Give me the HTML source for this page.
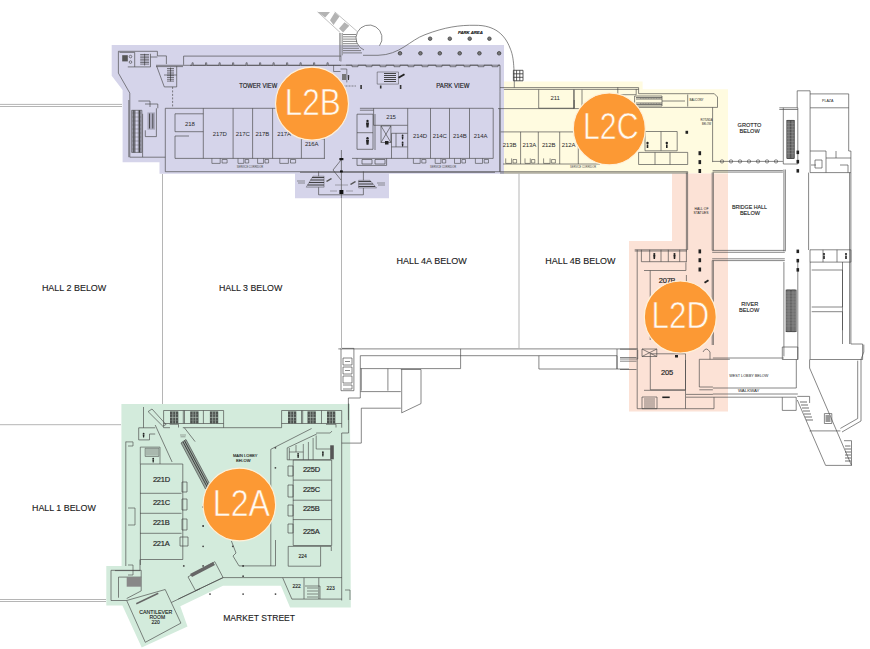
<!DOCTYPE html>
<html><head><meta charset="utf-8">
<style>
html,body{margin:0;padding:0;background:#fff;width:870px;height:649px;overflow:hidden}
svg{display:block}
text{font-family:"Liberation Sans",sans-serif}
.lbl{font-size:9px;fill:#1a1a1a;stroke:#1a1a1a;stroke-width:0.12px}
.rs{font-size:6px;fill:#2a2a2a;text-anchor:middle;letter-spacing:-0.1px}
.rl{font-size:7.5px;fill:#2a2a2a;stroke:#2a2a2a;stroke-width:0.2px;letter-spacing:-0.2px}
.circ{fill:#FC9934;stroke:#FFF0D8;stroke-width:1.2}
.ct{font-size:37px;fill:#fffaf0;stroke:#FC9934;stroke-width:0.6px}
.hl{stroke:#b5b5b5;stroke-width:1;fill:none}
.w{stroke:#454545;stroke-width:0.65;fill:none}
</style></head>
<body>
<svg width="870" height="649" viewBox="0 0 870 649">
<!-- colored zones -->
<polygon fill="#D5D4EA" points="111.7,45 504,45 504,173.7 389,173.7 389,198.3 295,198.3 295,173.7 159.5,173.7 159.5,162.3 122.6,162.3 122.6,90 111.7,75.7"/>
<polygon fill="#FFFBE0" points="504,81.6 642.6,81.6 642.6,89.3 728,89.3 728,173.4 504,173.4"/>
<polygon fill="#FCE2D6" points="672,173.4 728,173.4 728,411.4 629,411.4 629,241 672,241"/>
<polygon fill="#D3EBDC" points="121.4,403.9 350,403.9 350.8,607.4 290.1,607.4 280.9,585.7 223,585.7 180.3,606.3 187.5,626.4 141.7,647.4 122.4,605.5 106.3,605.5 106.3,566.1 121.6,566.1"/>


<!-- L2B walls -->
<g class="w">
<!-- top-left stair tower -->
<path d="M118.4 51.3H157.4V55.9H166.4V64.1M118.4 51.3V73.1L129.8 93.1V157.2H142.6M142.6 113.8V157.2H165.3"/>
<path d="M119.5 52.4H134.7V66.9M127.8 66.9H150.5V53.8M150.5 57H157.4"/>
<circle cx="130.5" cy="56.6" r="1.3"/><circle cx="130.5" cy="62.1" r="1.3"/>
<path d="M156.7 66.2L164.3 86.9H176.7V66.2M164 75H176.7"/>
<!-- balcony -->
<path d="M183.6 64.8V56.1H341"/>
<path d="M156 65.3H341M156 66.6H183"/>
<path d="M341 65.2H500V91.7"/>
<path d="M172.6 86.9V107.6" stroke-dasharray="2 1.5"/>
<!-- escalator area -->
<path d="M128.8 100V157.2M156.4 108.3V136.6H145.3V130.3M138.4 101H150V107M145 104H157.8V108.3"/>
<!-- room row -->
<path d="M165.3 108.3H341M359.9 108.3H493.2M165.3 108.3V171.7H500V91.7"/>
<path d="M175 158.4H325M352 158.4H493.2V108.3"/>
<path d="M203.3 108.3V158.4M233.1 108.3V158.4M252.6 108.3V158.4M272.6 108.3V158.4M301.4 108.3V158.4M324.4 138.9V158.4M301.4 138.9H324.4"/>
<path d="M175 113.8H203.3M175 131.7H203.3M175 113.8V131.7"/>
<path d="M407.7 108.3V158.4M430.5 108.3V158.4M449.5 108.3V158.4M469.5 108.3V158.4"/>
<path d="M373.6 108.3V125.3H407.5M359.9 110.2H373.6M381 125.9H390.9V142.5H381ZM381 125.9L390.9 142.5M390.9 125.9L381 142.5M357 114.2H373V149.3H357ZM357 132.7H373M375 114V150"/>
<path d="M391.5 133.3H407.5M391.5 133.3V158.4M391.5 146.9H407.5M396 133.3V146.9"/><path d="M357 158.4V165.4H386.6V158.4M362 159.5H372V164H362ZM375 159.5H385V164H375Z"/>
<path d="M175 136V158.4M175 136H189"/>
</g>
<!-- top stair + park area -->
<g>
<path d="M317.6 11.9L340.3 32.6M334.8 11.9L356.9 31.2" stroke="#999" stroke-width="0.6" fill="none"/>
<path d="M317.6 11.9H330L325.2 17.4ZM330 20.2L334.8 12.6L339.5 16.5L333.5 25ZM339 28.4L344.5 22.2L349.3 25.7L343.1 32.6Z" fill="#b3b3b3"/>
<path d="M379.5 45.7A13 13 0 1 0 364 50" fill="none" stroke="#555" stroke-width="0.7"/>
<path d="M343 34.5H356M343 36.8H356M343 39.1H356M343 41.4H357M343 43.7H357M343 46H358M343 48.3H359M343 50.6H361M343 52.9H362" stroke="#555" stroke-width="0.7"/><path d="M342.5 33V55.3M339.5 33V61" stroke="#777" stroke-width="0.6"/>
<path d="M340.9 33V61.5M363 55.3H378C400 55 410 40 425 34.7C445 27 460 25 475 25.3C495 25 505 35 510 48C513 55 514.3 62 514.3 87.7" fill="none" stroke="#555" stroke-width="0.7"/>
<path d="M513.4 70.3H523V80.8H513.4ZM516.6 70.3V80.8M519.8 70.3V80.8M513.4 73.8H523M513.4 77.3H523" fill="none" stroke="#333" stroke-width="0.8"/>
</g>
<g fill="#777" stroke="#333" stroke-width="0.7">
<circle cx="430.1" cy="38.7" r="1.8"/><circle cx="449.8" cy="38.7" r="1.8"/><circle cx="469.7" cy="38.7" r="1.8"/><circle cx="489.4" cy="38.7" r="1.8"/>
<circle cx="400" cy="53.3" r="1.8"/><circle cx="420.4" cy="53.3" r="1.8"/><circle cx="439.8" cy="53.3" r="1.8"/><circle cx="459.7" cy="53.3" r="1.8"/><circle cx="479.4" cy="53.3" r="1.8"/><circle cx="499.1" cy="53.3" r="1.8"/>
</g>
<g fill="#333">
<rect x="360.3" y="85" width="1.6" height="4"/><rect x="399.8" y="85" width="1.6" height="4"/><rect x="379.9" y="85.5" width="1.6" height="3"/>
<path d="M132.2 110.3H135.7V152.4H132.2ZM137.8 110.3H141.2V152.4H137.8Z" fill="#8c8c99"/><path d="M133.9 110.3V152.4M139.5 110.3V152.4" stroke="#333" stroke-width="0.8"/><path d="M132.2 113H141.2M132.2 117H141.2M132.2 121H141.2M132.2 125H141.2M132.2 129H141.2M132.2 133H141.2M132.2 137H141.2M132.2 141H141.2M132.2 145H141.2M132.2 149H141.2" stroke="#555" stroke-width="0.4"/>
<path d="M131.6 110.3H141.9V152.4H131.6Z" fill="none" stroke="#444" stroke-width="0.6"/>
<path d="M147.4 112.4H155V129.7H147.4Z" fill="#aaa9bd"/>
<path d="M149.5 113.5V128.5M152.8 113.5V128.5" stroke="#333" stroke-width="0.8"/>
<path d="M140.2 54.5H149.1M140.2 56.1H149.1M140.2 57.7H149.1M140.2 59.3H149.1M140.2 60.9H149.1M140.2 62.5H149.1M140.2 64.1H149.1M144.6 53.8V65.5" stroke="#333" stroke-width="0.6"/>
<path d="M122.2 55.2H127.8V61.4H122.2Z" fill="#555"/>
<path d="M167 68.5H174M167 70.3H174M167 72.1H174M167 73.9H174M167 75.7H174M167 77.5H174M167 79.3H174M167 81.1H174M170.5 67.6V81.4" stroke="#333" stroke-width="0.6"/>
<path d="M377.2 72H398.5V84.1H377.2Z" fill="none" stroke="#444" stroke-width="0.5"/><path d="M384 73.5H396M384 75.5H396M384 77.5H396M384 79.5H396M384 81.5H396" stroke="#333" stroke-width="0.9"/><path d="M398 77L404 73.5L405 75L399 78.5Z" fill="#222"/>
</g>
<g class="lbl" style="font-size:6.6px;stroke-width:0.15px">
<text x="457.9" y="34" style="font-size:3.8px;font-weight:bold;font-style:italic" textLength="24.9" lengthAdjust="spacingAndGlyphs">PARK AREA</text>
<text x="239.3" y="87.8" textLength="37.9" lengthAdjust="spacingAndGlyphs">TOWER VIEW</text>
<text x="436.3" y="87.8" textLength="33.1" lengthAdjust="spacingAndGlyphs">PARK VIEW</text>
</g>
<g fill="#222">
<circle cx="367.5" cy="121" r="1.2"/><path d="M366 122.5H369L368.5 127.5H366.5Z"/>
<circle cx="367.5" cy="138.3" r="1.2"/><path d="M366 139.8H369L368.5 144.8H366.5Z"/>
<circle cx="402.6" cy="135.5" r="0.9"/><path d="M401.7 136.5H403.5L403.1 139.5H402.1Z"/><circle cx="402.6" cy="142.5" r="0.9"/><path d="M401.7 143.5H403.5L403.1 146.5H402.1Z"/>
<path d="M385 141H388.5V144.5H385Z"/>
</g>
<g class="rs"><text x="189.9" y="126.0">218</text><text x="219.8" y="135.9">217D</text><text x="242.8" y="135.9">217C</text><text x="262.3" y="135.9">217B</text><text x="284.1" y="135.9">217A</text><text x="311.7" y="145.5">216A</text><text x="391.0" y="119.1">215</text><text x="420.1" y="137.5">214D</text><text x="439.7" y="137.5">214C</text><text x="459.9" y="137.5">214B</text><text x="480.6" y="137.5">214A</text></g>



<g class="w" style="stroke-width:0.6"><path d="M211.9 158.4V163.4H220.2V158.4"/><path d="M222.1 159.5H227.1V163H222.1Z"/><path d="M238.0 158.4V163.4H243.8V158.4"/><path d="M245.2 159.5H248.7V163H245.2Z"/><path d="M257.6 158.4V163.4H263.6V158.4"/><path d="M265.0 159.5H268.6V163H265.0Z"/><path d="M279.8 158.4V163.4H288.4V158.4"/><path d="M290.5 159.5H295.6V163H290.5Z"/><path d="M413.4 158.4V163.4H420.2V158.4"/><path d="M421.8 159.5H425.9V163H421.8Z"/><path d="M435.2 158.4V163.4H440.9V158.4"/><path d="M442.3 159.5H445.7V163H442.3Z"/><path d="M454.5 158.4V163.4H460.5V158.4"/><path d="M461.9 159.5H465.5V163H461.9Z"/><path d="M475.4 158.4V163.4H482.5V158.4"/><path d="M484.2 159.5H488.5V163H484.2Z"/><path d="M505.7 158.4V163.4H511.6V158.4"/><path d="M513.0 159.5H516.6V163H513.0Z"/><path d="M525.0 158.4V163.4H530.3V158.4"/><path d="M531.6 159.5H534.8V163H531.6Z"/><path d="M543.6 158.4V163.4H550.1V158.4"/><path d="M551.6 159.5H555.4V163H551.6Z"/></g><g class="lbl" style="font-size:2.6px;stroke-width:0;fill:#444"><text x="236.7" y="168.4" textLength="26.4" lengthAdjust="spacingAndGlyphs">SERVICE CORRIDOR</text><text x="430" y="168.4" textLength="26" lengthAdjust="spacingAndGlyphs">SERVICE CORRIDOR</text><text x="570" y="168.4" textLength="26" lengthAdjust="spacingAndGlyphs">SERVICE CORRIDOR</text></g>
<path d="M346 65.2H352.0v1.5h6v-1.5H366.0v1.5h6v-1.5H380.0v1.5h6v-1.5H394.0v1.5h6v-1.5H408.0v1.5h6v-1.5H422.0v1.5h6v-1.5H436.0v1.5h6v-1.5H450.0v1.5h6v-1.5H464.0v1.5h6v-1.5H478.0v1.5h6v-1.5H492.0v1.5h6v-1.5H500" fill="none" stroke="#3a3a3a" stroke-width="0.6"/>
<path d="M190 65.3H192.0v-2.5h1.2v2.5H205.5v-2.5h1.2v2.5H219.0v-2.5h1.2v2.5H232.5v-2.5h1.2v2.5H246.0v-2.5h1.2v2.5H259.5v-2.5h1.2v2.5H273.0v-2.5h1.2v2.5H286.5v-2.5h1.2v2.5H300.0v-2.5h1.2v2.5H313.5v-2.5h1.2v2.5H327.0v-2.5h1.2v2.5H341" fill="none" stroke="#3a3a3a" stroke-width="0.6"/>
<g class="w" style="stroke-width:0.6">
<path d="M333.6 65.2V71.5M340.5 69H346.8V82.4M333.6 71.5H340.5"/>
<path d="M337 86H356" stroke-dasharray="1 0.5"/>
</g>
<g fill="#333"><path d="M342 74H346V80H342Z" fill="#777"/><circle cx="348.5" cy="76" r="0.9"/><path d="M347.8 77H349.2L349 80H348Z"/></g>
<!-- L2B bottom protrusion -->
<g class="w">
<path d="M341.4 150V198"/>
<path d="M318.6 171.4V194.8H363.4V171.4"/>
<path d="M341 160L333 170L341 180"/>
<path d="M300 172.3H495" />
</g>
<g fill="#555">
<path d="M306.2 187.2L313 176.2H324.1V187.2Z" fill="#c4c3d8" stroke="#444" stroke-width="0.4"/>
<path d="M312 177.5H324M310.5 180H324M309 182.5H324M307.5 185H324" stroke="#333" stroke-width="0.9"/>
<path d="M358.6 180.3H370L376.6 188H358.6Z" fill="#c4c3d8" stroke="#444" stroke-width="0.4"/>
<path d="M358.6 181.5H371M358.6 184H373M358.6 186.5H375" stroke="#333" stroke-width="0.9"/>
<path d="M297 181H305M298 183H305M377 183H385M378 185H385" stroke="#555" stroke-width="0.6"/>
<path d="M330 191H337M346 191H353M335 185H348" stroke="#666" stroke-width="0.5"/>
<path d="M326 181L331 178L332 179L327 182Z"/>
<path d="M350 184L355 181L356 182L351 185Z"/>
<rect x="339.4" y="158" width="4" height="2.2" fill="#111"/>
<rect x="340" y="170.4" width="2.8" height="2" fill="#111"/>
<rect x="339.4" y="190" width="4" height="4" fill="#111"/>
</g>

<!-- L2C walls -->
<g class="w">
<path d="M500 87.6H638.6M503.9 89.4H638.6M638.6 87.6V93.7H714.3L717.5 97V107.4H638.6"/>
<path d="M538.7 89.6V108.2H574.2V89.6M498 108.6H600M574.2 108.6V100"/>
<path d="M499.9 108.6V171.7M500.7 131.9H600M520.6 131.9V164M538.3 131.9V164M559.7 131.9V164M578.3 131.9V164M503 164H600"/>
<path d="M500 171.7H687.7V172.5M500 173H687.7"/>
<path d="M634.6 96H662V106H634.6ZM687.7 94.5V106.6M662 101H685"/>
<path d="M712.6 107.4V162.1"/>
<path d="M645 131.5H677.2V150.8H645ZM661 131.5V150.8"/>
<path d="M638.6 152.4H687.7V164.5H638.6ZM655 152.4V164.5M670 152.4V164.5"/>
</g>
<path d="M636 97.5H662M636 99H662M636 103H662M636 104.5H662" stroke="#555" stroke-width="0.8"/><path d="M640 98.2H661M640 103.7H661" stroke="#666" stroke-width="0.6" stroke-dasharray="1 0.6"/><path d="M617.8 87.4V94.7H636.2V89.2M573.7 89.6V108.6M582 89.6V108.6" stroke="#3a3a3a" stroke-width="0.6" fill="none"/>
<g class="w">
<path d="M712.6 161.4H782.9"/><rect x="720.5" y="159.9" width="3" height="3" rx="1"/><rect x="729.5" y="159.9" width="3" height="3" rx="1"/><rect x="738.5" y="159.9" width="3" height="3" rx="1"/><rect x="747.5" y="159.9" width="3" height="3" rx="1"/><rect x="756.5" y="159.9" width="3" height="3" rx="1"/><rect x="765.5" y="159.9" width="3" height="3" rx="1"/><rect x="774.5" y="159.9" width="3" height="3" rx="1"/>
<path d="M712.6 170.6H782.9M712.6 172.1H782.9"/>
</g>
<g fill="#222">
<rect x="685.5" y="130.8" width="2.6" height="3"/>
<rect x="698.5" y="151.2" width="2.6" height="4"/><rect x="698.5" y="160.1" width="2.6" height="4"/><rect x="698.5" y="169" width="2.6" height="4"/>
<circle cx="647.5" cy="143" r="1.2"/><circle cx="666.8" cy="143" r="1.2"/>
<rect x="646.7" y="144.5" width="1.6" height="3.5"/><rect x="666" y="144.5" width="1.6" height="3.5"/>
</g>
<g class="rs"><text x="555.2" y="99.7">211</text><text x="509.6" y="146.6">213B</text><text x="529.3" y="146.6">213A</text><text x="548.7" y="146.6">212B</text><text x="568.6" y="146.6">212A</text></g>
<!-- L2D walls -->
<g class="w">
<path d="M686.4 172.5V262.2M687.6 172.5V250M712.2 172.5V250.3M713.4 172.5V250.3"/>
<path d="M712.2 250.4H784.8M712.2 252.3H784.8M712.2 258.8H784.8M712.2 260.6H784.8"/>
<path d="M634.7 249.8H686.9M634.7 251H686.9M641.4 249.8V261.7M649.7 249.8V261.7M661 249.8V261.7M668.3 249.8V261.7M679.7 249.8V261.7M641.4 261.7H686.4"/>
<path d="M637.2 249.8V408.7M644 270.5H685.9V262.5M650.2 270.5V340M686.4 275V350"/>
<path d="M712.2 260.6V345M713.4 260.6V345M699.3 359.3V387M699.3 359.3H729.8M703 352Q706 346 710 352V359.3"/>
<path d="M650.3 353.8H685.5V389.8H650.3ZM642 349H656.8V356.5H642ZM642 349L656.8 356.5M656.8 349L642 356.5"/>
<path d="M685.5 360V408.7M637.2 408.7H714M714 397.2V408.7M644 390.3H685.5"/>
<path d="M699.3 387H712.9M699.3 389.8H712.9M686 394.4H712.9M686 397.2H712.9"/>
<path d="M642 397H657V408.7H642ZM644 399H655M644 401H655M644 403H655M644 405H655M644 407H655"/>
<path d="M620 349.2H636.5M620 357.5H636.5M620 361.2H636.5M620 369.5H636.5"/>
</g>
<g fill="#222">
<rect x="698.5" y="249.4" width="2.6" height="4"/><rect x="698.5" y="258.2" width="2.6" height="4"/><rect x="698.5" y="267.5" width="2.6" height="4"/>
<circle cx="654.3" cy="254" r="1.1"/><circle cx="674.5" cy="254" r="1.1"/>
<path d="M653.2 255H655.4L655 259H653.6Z"/><path d="M673.4 255H675.6L675.2 259H673.8Z"/>
<rect x="662.3" y="396.5" width="7.4" height="1.6"/>
<path d="M704 282L708 279.5L709 281L705 283.5Z"/>
<rect x="675" y="355" width="3" height="2.5"/>
</g>
<g class="w" style="stroke-width:0.6">
<path d="M140.3 464V447.1H160V464M145.2 448.3H158.8V456.4H145.2Z"/><path d="M125.9 441.9H133V446H128"/>
<path d="M128 508H135V525H128"/>
<path d="M128 565H133V575H128"/>
<path d="M305 586H320V599M307 588H318M307 591H318M307 594H318M307 597H318"/>
<path d="M296 445V452M289.3 452H303.3M303.3 444V459.8M308.4 442V459.8M313.1 438V459.8M316.2 435.5V449H331.2M316.2 433H330.2L332 431"/>
<path d="M345 590H350V600"/>
</g>
<g fill="#222"><circle cx="143.6" cy="433.6" r="0.9"/><path d="M142.7 434.6H144.5L144.1 437.6H143.1Z"/><circle cx="153.2" cy="458.6" r="0.9"/><path d="M152.3 459.6H154.1L153.7 462.6H152.7Z"/><path d="M146 449H158V455.6H146Z" fill="#a9b8ae"/><circle cx="298.1" cy="453.8" r="0.9"/><path d="M297.2 454.8H299L298.6 458H297.6Z"/><circle cx="322.9" cy="452.2" r="0.9"/><path d="M322 453.2H323.8L323.4 456.4H322.4Z"/><path d="M330.2 445.3H333.8V459.3H330.2Z" fill="#555"/>
<circle cx="243.1" cy="565.9" r="0.9"/><circle cx="203.1" cy="526" r="0.9"/><circle cx="203.1" cy="507" r="0.9"/></g>
<g class="rl">
<text x="658.7" y="283">207B</text>
<text x="661" y="375">205</text>
</g>
<g class="lbl" style="font-size:3.4px;stroke-width:0">
<text x="694.5" y="209.5">HALL OF</text><text x="693.5" y="213.5">STATUES</text>
</g>
<!-- corridor -->
<g class="w">
<path d="M338.3 348.9H637.7M360.3 355.7H538.9M538.9 355.7H617V369H538.9ZM360.3 368.6H460.6V348.9"/>
<path d="M341 348.4H353.9V390.7H341ZM343 358H352V365H343ZM343 367H352V374H343ZM343 376H352V383H343ZM343 385H352V389H343"/><path d="M345 361.5H350M345 370.5H350" />
<path d="M360.3 355.7V391.6H400.8M348.4 398H360.3V391.6M348.4 398V420M361.3 368.6V390.7M387.9 368.6V390.7"/>
<path d="M400.8 369.5H421V403.6L401.7 412.8V369.5M361.3 408.2H400.8M361.3 408.2V443.1"/>
<path d="M617 349V369H629"/>
<path d="M637.7 349.8V359H620"/>
</g>
<!-- right building -->
<g class="w">
<path d="M779.3 107.8H797.8V164H783.3V107.8M779.3 109.5H797.8M797.2 107.8V90.8H810.1V107.8M810.1 93.9H848.7V151M810.1 107.8H848.7M810.1 107.8V172.6H850.9V151H848.7"/>
<path d="M810.1 151H826V172.6M826 158H850.9M836 151V158M815 160H822V168H815Z"/>
<path d="M811 165H816M840 165H848V172.6"/>
<path d="M783.9 169.5V251.3M785.4 169.5V251.3M808.6 172.6V250M850.9 172.6V344M849.6 172.6V344"/>
<path d="M810 249.8H850.9V262.1H810ZM823 249.8V262.1M837 249.8V262.1"/>
<path d="M783.9 262V356.4M797.8 262V359.5M782.3 347H797.8V359.5H782.3Z"/>
<path d="M810.1 262V359.5H862.6V344H850.9M811.7 270H842.5V307H811.7M811.7 311.7H842.5V330.2M842.5 262V344"/>
<path d="M809.6 368L851.5 465.4H825.6L797.3 400M857.7 360.7V418.5L840.4 428.4M863.8 344.6V352L861 359.4V421L842 432M809.6 430.9H840.4M809.6 359.4V368"/>
<path d="M712.9 358H783.9M712.9 388H796.3M712.9 394H797.8M712.9 397.2H782.3M796.3 359.5V388M782.3 397.2H796.2V410.4H782.3Z"/>
<path d="M797.3 396.4H809.6V403" /><path d="M844 440.7H851.5V465.4" />
<path d="M824.4 413.6H831.8V423.5H824.4Z"/>
</g>
<rect x="786.8" y="120.4" width="7.6" height="38.1" fill="#fff" stroke="#333" stroke-width="0.6"/><path d="M787.4 120.4H790.4V158.5H787.4ZM790.8 120.4H793.8V158.5H790.8Z" fill="#777" stroke="#222" stroke-width="0.5"/><path d="M786.8 123.4H794.4M786.8 126.4H794.4M786.8 129.4H794.4M786.8 132.4H794.4M786.8 135.4H794.4M786.8 138.4H794.4M786.8 141.4H794.4M786.8 144.4H794.4M786.8 147.4H794.4M786.8 150.4H794.4M786.8 153.4H794.4" stroke="#999" stroke-width="0.4"/><rect x="786.0" y="290.0" width="10.2" height="41.7" fill="#fff" stroke="#333" stroke-width="0.6"/><path d="M786.6 290.0H790.7V331.7H786.6ZM791.3 290.0H795.4V331.7H791.3Z" fill="#777" stroke="#222" stroke-width="0.5"/><path d="M786.0 293.0H796.2M786.0 296.0H796.2M786.0 299.0H796.2M786.0 302.0H796.2M786.0 305.0H796.2M786.0 308.0H796.2M786.0 311.0H796.2M786.0 314.0H796.2M786.0 317.0H796.2M786.0 320.0H796.2M786.0 323.0H796.2M786.0 326.0H796.2" stroke="#999" stroke-width="0.4"/><path d="M800 402H807M801 405H808M802 408H809M803 411H810M804 414H811M805 417H812M806 420H813" stroke="#333" stroke-width="0.7"/><path d="M825.5 415H830.5V422H825.5Z" fill="#999"/>
<path d="M845 446H850.5M845 449H851M845 452H851M845 455H851M845 458H851M845 461H851" stroke="#333" stroke-width="0.7"/>
<g fill="#222">
<rect x="796.5" y="150.6" width="2.6" height="3.5"/><rect x="796.5" y="159.9" width="2.6" height="3.5"/><rect x="796.5" y="169.1" width="2.6" height="3.5"/>
<rect x="796.5" y="249.6" width="2.6" height="3.5"/><rect x="796.5" y="258.9" width="2.6" height="3.5"/><rect x="796.5" y="268.1" width="2.6" height="3.5"/>
<circle cx="824" cy="254" r="1.1"/><circle cx="846" cy="254" r="1.1"/>
<rect x="823.2" y="255.5" width="1.6" height="3.5"/><rect x="845.2" y="255.5" width="1.6" height="3.5"/>
</g>
<g class="lbl" style="font-size:5.6px">
<text x="822" y="101.5" style="font-size:3.5px;stroke-width:0" textLength="11.5" lengthAdjust="spacingAndGlyphs">PLAZA</text><text x="700.5" y="121" style="font-size:3px;stroke-width:0" textLength="12" lengthAdjust="spacingAndGlyphs">ROTUNDA</text><text x="702" y="124.5" style="font-size:3px;stroke-width:0" textLength="9" lengthAdjust="spacingAndGlyphs">BELOW</text><text x="689.5" y="101" style="font-size:3px;stroke-width:0" textLength="14" lengthAdjust="spacingAndGlyphs">BALCONY</text><text x="737.6" y="127">GROTTO</text><text x="739.5" y="133">BELOW</text>
<text x="731.9" y="209.3" textLength="35" lengthAdjust="spacingAndGlyphs">BRIDGE HALL</text><text x="739.9" y="215.3">BELOW</text>
<text x="741.2" y="306.4">RIVER</text><text x="739" y="312.4">BELOW</text>
<text x="729.2" y="376.6" style="font-size:4.4px;stroke-width:0" textLength="39.1" lengthAdjust="spacingAndGlyphs">WEST LOBBY BELOW</text><text x="737.9" y="392.4" style="font-size:3.2px;stroke-width:0" textLength="21.6" lengthAdjust="spacingAndGlyphs">WALKWAY</text>
</g>


<!-- L2A walls -->
<g class="w">
<path d="M163.6 410.5H223.6V427.7M163.6 410.5V427.7M183.3 410.5V423.5M184.5 410.5V423.5M203.4 410.5V423.5M163.6 423.5H223.6M169.7 424.3H178.5V427.5"/>
<path d="M281.6 410.5H341.7V427.7M281.6 410.5V427.7M301.5 410.5V423.5M302.7 410.5V423.5M321.5 410.5V423.5M281.6 423.5H341.7M326 424.3H336V427.5"/>
<path d="M182.8 427.7H281.6M163.5 427.7H170"/>
<path d="M143.5 407V427.8M138.7 427.8H155.2M138.7 427.8V439.9H149.5V434H155.2"/>
<path d="M148.1 411.6L152 409L166 424.5L162.8 426.2ZM155.2 425L172.1 462"/>
<path d="M184.3 427.7L195.1 441.6"/>
<path d="M140.4 464V565M125.8 441.6V566M140.4 464H182.8V559.5H140.4M140 493.3H181.6M140 513.3H181.6M140 533.3H181.6"/>
<path d="M182 482H187V492H182ZM182 499H187V510H182ZM182 519H187V530H182ZM180 537H188V546H180Z"/>
<path d="M311.6 428.5L270.8 449.3V566M341.7 433V600.5M341.7 433H348.6V403.5M341.7 443.1H361.3"/>
<path d="M287.2 447.9L316.7 434M287.2 447.9V459.8H331.2M289.3 448V459.8M293.2 460H331.7V545.5H293.2V460M293.2 480.1H331.7M292.9 500.2H331.7M292.9 519.6H331.7"/>
<path d="M288 466H293V476H288ZM288 485H293V497H288ZM288 505H293V516H288ZM288 524H293V533H288Z"/>
<path d="M288.2 546.4H320.6V566.2H288.2ZM320.6 546.4H331.3V551"/>
<path d="M223.1 577.6H341.9M223.1 577.6L178.3 599M188 576.9L214.8 561.7L223.1 577.6L195.5 590.7Z"/>
<path d="M231.4 541L236 553L233 556L239 565.9H275.5V540"/>
<path d="M282.7 577.8L291.9 599.1H341.9M304 577.8V599M318.8 577.8V599"/>
<path d="M115 570.6H140M140 559.5V570.6"/>
<path d="M111 570.3H141.2V590.9L126.7 598.5M111 570.3V600.5H126.7M118.5 577.1H141.2M118.5 577.1V597.7"/><path d="M126.7 600.5L145.3 642.3L180.9 623.1L165.2 589.5L126.7 600.5M171.3 602.5L200 588.8"/>
</g>
<g fill="#444">
<rect x="170.0" y="411.4" width="8.3" height="12.0" fill="#4d524f"/><path d="M170.0 417.4H178.3M172.8 411.4V423.4M175.5 411.4V423.4" stroke="#b8cabf" stroke-width="0.6"/><path d="M170.0 414.4H178.3M170.0 420.4H178.3" stroke="#8a948e" stroke-width="0.4"/><rect x="190.2" y="411.4" width="8.3" height="12.0" fill="#4d524f"/><path d="M190.2 417.4H198.5M193.0 411.4V423.4M195.7 411.4V423.4" stroke="#b8cabf" stroke-width="0.6"/><path d="M190.2 414.4H198.5M190.2 420.4H198.5" stroke="#8a948e" stroke-width="0.4"/><rect x="209.9" y="411.4" width="8.3" height="12.0" fill="#4d524f"/><path d="M209.9 417.4H218.2M212.7 411.4V423.4M215.4 411.4V423.4" stroke="#b8cabf" stroke-width="0.6"/><path d="M209.9 414.4H218.2M209.9 420.4H218.2" stroke="#8a948e" stroke-width="0.4"/><rect x="288.0" y="411.4" width="8.3" height="12.0" fill="#4d524f"/><path d="M288.0 417.4H296.3M290.8 411.4V423.4M293.5 411.4V423.4" stroke="#b8cabf" stroke-width="0.6"/><path d="M288.0 414.4H296.3M288.0 420.4H296.3" stroke="#8a948e" stroke-width="0.4"/><rect x="307.5" y="411.4" width="8.3" height="12.0" fill="#4d524f"/><path d="M307.5 417.4H315.8M310.3 411.4V423.4M313.0 411.4V423.4" stroke="#b8cabf" stroke-width="0.6"/><path d="M307.5 414.4H315.8M307.5 420.4H315.8" stroke="#8a948e" stroke-width="0.4"/><rect x="327.0" y="411.4" width="8.3" height="12.0" fill="#4d524f"/><path d="M327.0 417.4H335.3M329.8 411.4V423.4M332.5 411.4V423.4" stroke="#b8cabf" stroke-width="0.6"/><path d="M327.0 414.4H335.3M327.0 420.4H335.3" stroke="#8a948e" stroke-width="0.4"/>
<path d="M181 443L186 439.5L210.5 485.5L205.5 489Z" fill="#9aa89f" stroke="#3a3a3a" stroke-width="0.6"/><path d="M183 441.8L207.5 487.6M184.5 440.6L209 486.5" stroke="#333" stroke-width="0.9"/><path d="M180 435H186M180.5 436.8H185.5" stroke="#555" stroke-width="0.5"/>
<path d="M190 574L213 562L215 565L192 577Z" fill="#666"/>
<path d="M126.7 577H141.2V586.7H126.7Z" fill="#888"/><path d="M136 603L158 592.5L158.6 594L136.6 604.5Z" fill="#666"/>
<circle cx="275.4" cy="447.8" r="0.9"/><circle cx="275.4" cy="467.8" r="0.9"/>
<circle cx="210" cy="594.1" r="0.9"/><circle cx="243.1" cy="594.1" r="0.9"/><circle cx="275.5" cy="594.1" r="0.9"/>
<circle cx="243.1" cy="576.2" r="0.9"/><circle cx="183.8" cy="565.9" r="0.9"/><circle cx="203.1" cy="565.9" r="0.9"/>
<circle cx="203.1" cy="546.3" r="0.9"/><circle cx="232.8" cy="546.3" r="0.9"/>
</g>
<g class="rl">
<text x="152.9" y="481.8">221D</text><text x="152.9" y="505.4">221C</text><text x="152.9" y="524.6">221B</text><text x="152.9" y="546.4">221A</text>
<text x="302.9" y="472.2">225D</text><text x="302.9" y="492.3">225C</text><text x="302.9" y="511.1">225B</text><text x="302.9" y="534.2">225A</text>
</g>
<g class="lbl" style="font-size:5px">
<text x="298.5" y="557.5">224</text><text x="292.5" y="588">222</text><text x="326.5" y="589.5">223</text>
<text x="233" y="457" style="font-size:4px">MAIN LOBBY</text><text x="236" y="461.5" style="font-size:4px">BELOW</text>
<text x="139.3" y="614" style="font-size:5px" textLength="32.9" lengthAdjust="spacingAndGlyphs">CANTILEVER</text><text x="149.5" y="618.6" style="font-size:5px">ROOM</text><text x="151.5" y="623.6" style="font-size:5px">220</text>
</g>

<!-- hall boundary lines -->
<g class="hl">
<path d="M0 104.4H122M0 106.5H122"/>
<path d="M0 424.7H121"/>
<path d="M0 599.5H106M0 601.5H106"/>
<path d="M162.5 174V404"/>
<path d="M341.5 198V349"/>
<path d="M519 173V349"/>
</g>

<!-- labels -->
<g class="lbl">
<text x="41.9" y="291" style="font-size:9.8px" textLength="64.4" lengthAdjust="spacingAndGlyphs">HALL 2 BELOW</text>
<text x="218.9" y="291" style="font-size:9.8px" textLength="63.4" lengthAdjust="spacingAndGlyphs">HALL 3 BELOW</text>
<text x="396.4" y="264.3" textLength="70.3" lengthAdjust="spacingAndGlyphs">HALL 4A BELOW</text>
<text x="545.3" y="264.3" textLength="70.2" lengthAdjust="spacingAndGlyphs">HALL 4B BELOW</text>
<text x="223.2" y="620.7" style="font-size:9.2px" textLength="71.9" lengthAdjust="spacingAndGlyphs">MARKET STREET</text>
<text x="32" y="511" textLength="63.8" lengthAdjust="spacingAndGlyphs">HALL 1 BELOW</text>
</g>

<!-- circles -->
<circle class="circ" cx="312" cy="103.7" r="36.5"/>
<circle class="circ" cx="609.3" cy="128.9" r="36"/>
<circle class="circ" cx="680.3" cy="317" r="36"/>
<circle class="circ" cx="239.3" cy="504.5" r="36.3"/>
<g class="ct">
<text x="284.7" y="114.7" textLength="56.2" lengthAdjust="spacingAndGlyphs">L2B</text>
<text x="583" y="139.3" textLength="55.6" lengthAdjust="spacingAndGlyphs">L2C</text>
<text x="651.6" y="328" textLength="57.7" lengthAdjust="spacingAndGlyphs">L2D</text>
<text x="212.8" y="515.8" textLength="57.3" lengthAdjust="spacingAndGlyphs">L2A</text>
</g>
</svg>
</body></html>
